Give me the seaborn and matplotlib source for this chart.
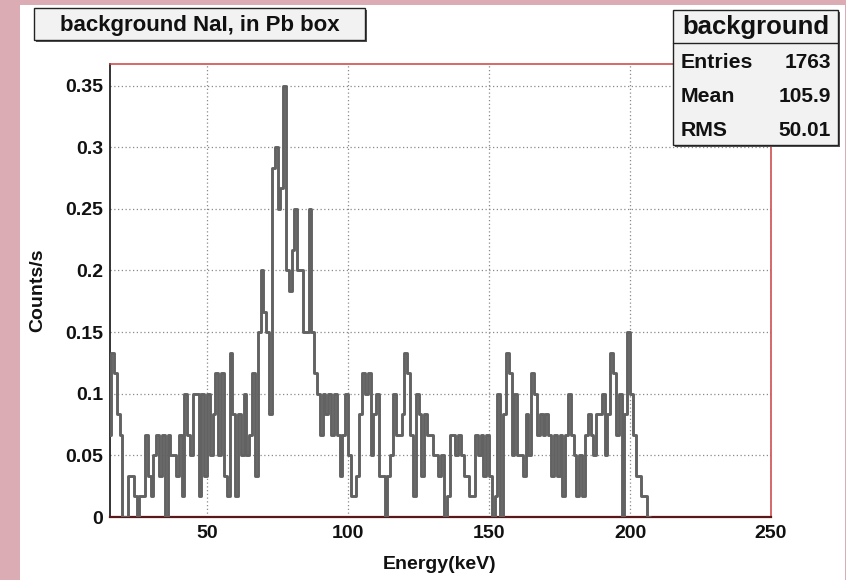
import numpy as np
import pandas as pd
import matplotlib
matplotlib.use("Agg")
import matplotlib.pyplot as plt
from matplotlib.patches import Rectangle
from matplotlib.ticker import MultipleLocator
import seaborn as sns

# Background spectrum: counts in 1 keV bins starting at 15 keV, 60 s live time
bin_start_kev = 15
live_time_s = 60
counts = [
    4, 8, 7, 5, 4, 0, 0, 2, 2, 1,          # 15-24
    0, 1, 1, 4, 2, 1, 3, 4, 2, 4,          # 25-34
    0, 4, 3, 3, 2, 4, 1, 6, 4, 3,          # 35-44
    6, 6, 1, 6, 2, 6, 3, 5, 7, 3,          # 45-54
    7, 2, 1, 8, 5, 1, 5, 3, 6, 3,          # 55-64
    4, 7, 2, 9, 12, 10, 9, 5, 17, 18,      # 65-74
    15, 16, 21, 12, 11, 13, 15, 12, 12, 9, # 75-84
    9, 15, 9, 7, 6, 4, 6, 5, 6, 4,         # 85-94
    6, 4, 2, 4, 6, 3, 1, 1, 2, 5,          # 95-104
    7, 6, 7, 3, 5, 6, 2, 2, 0, 2,          # 105-114
    3, 6, 4, 4, 5, 8, 7, 4, 1, 6,          # 115-124
    5, 2, 5, 4, 4, 3, 3, 2, 3, 0,          # 125-134
    1, 4, 4, 3, 4, 3, 2, 2, 1, 1,          # 135-144
    4, 3, 4, 2, 4, 2, 0, 1, 6, 0,          # 145-154
    5, 8, 7, 3, 6, 3, 3, 2, 5, 3,          # 155-164
    7, 6, 4, 5, 4, 5, 4, 2, 4, 2,          # 165-174
    4, 1, 4, 6, 4, 3, 1, 3, 1, 4,          # 175-184
    5, 4, 3, 5, 5, 6, 3, 5, 8, 7,          # 185-194
    4, 6, 0, 5, 9, 6, 4, 2, 2, 1,          # 195-204
    1, 0,                                  # 205-206
]

x_range = (15.6, 250)
y_max = 0.3675
x_major = [50, 100, 150, 200, 250]
x_tick_labels = ["50", "100", "150", "200", "250"]
y_major = [0, 0.05, 0.1, 0.15, 0.2, 0.25, 0.3, 0.35]
y_tick_labels = ["0", "0.05", "0.1", "0.15", "0.2", "0.25", "0.3", "0.35"]

title_text = "background NaI, in Pb box"
stats_title = "background"
stats_names = ["Entries", "Mean", "RMS"]
stats_values = ["1763", "105.9", "50.01"]

n_bins = len(counts)
spectrum = pd.DataFrame({
    "energy": bin_start_kev + np.arange(n_bins) + 0.5,
    "rate": np.asarray(counts, dtype=float) / live_time_s,
})

sns.set_theme(style="white")
plt.rcParams["font.family"] = ["Liberation Sans", "DejaVu Sans"]
plt.rcParams["font.weight"] = "bold"

W, H = 846, 580
fig = plt.figure(figsize=(W / 100, H / 100), dpi=100)
fig.patch.set_facecolor("#dbacb4")


def fx(px):
    return px / W


def fy(py):
    return 1 - py / H


# white canvas
fig.add_artist(Rectangle((fx(20), 0), fx(845) - fx(20), fy(5), transform=fig.transFigure,
                         facecolor="white", edgecolor="none", zorder=0))

ax = fig.add_axes([fx(110), fy(517), fx(771) - fx(110), fy(64) - fy(517)])
ax.set_facecolor("white")

sns.histplot(data=spectrum, x="energy", weights="rate", binwidth=1,
             binrange=(bin_start_kev, bin_start_kev + n_bins),
             element="step", fill=False, color="#626262", linewidth=2.1, ax=ax, zorder=3)

ax.set_xlim(*x_range)
ax.set_ylim(0, y_max)
ax.set_xticks(x_major, x_tick_labels)
ax.set_yticks(y_major, y_tick_labels)
ax.xaxis.set_minor_locator(MultipleLocator(10))
ax.yaxis.set_minor_locator(MultipleLocator(0.01))

ax.tick_params(axis="both", which="both", direction="in", top=False, right=False,
               colors="#111111", labelsize=14, width=1.1)
ax.tick_params(axis="x", which="major", length=10, pad=6)
ax.tick_params(axis="x", which="minor", length=5)
ax.tick_params(axis="y", which="major", length=13, pad=5)
ax.tick_params(axis="y", which="minor", length=6.5)
for lab in ax.get_xticklabels() + ax.get_yticklabels():
    lab.set_fontweight("bold")

ax.grid(True, which="major", color="#8a8a8a", linestyle=(0, (1, 2)), linewidth=0.9)
ax.set_axisbelow(True)

ax.spines["left"].set_color("#111111")
ax.spines["left"].set_linewidth(1.2)
ax.spines["bottom"].set_color("#5a1818")
ax.spines["bottom"].set_linewidth(1.6)
for side in ("top", "right"):
    ax.spines[side].set_color("#cc4040")
    ax.spines[side].set_linewidth(1.1)

ax.set_xlabel("Energy(keV)", fontsize=14, fontweight="bold", color="#111111")
ax.set_ylabel("Counts/s", fontsize=14, fontweight="bold", color="#111111")
ax.xaxis.set_label_coords((440 - 110) / 661, (517 - 556) / 453)
ax.yaxis.set_label_coords((46 - 110) / 661, 0.5)


def pave(x0, y0, x1, y1):
    fig.add_artist(Rectangle((fx(x0 + 2), fy(y1 + 2)), fx(x1) - fx(x0), fy(y0) - fy(y1),
                             transform=fig.transFigure, facecolor="#555555",
                             edgecolor="none", zorder=5))
    fig.add_artist(Rectangle((fx(x0), fy(y1)), fx(x1) - fx(x0), fy(y0) - fy(y1),
                             transform=fig.transFigure, facecolor="#f2f2f2",
                             edgecolor="#222222", linewidth=1.0, zorder=6))


# title box
pave(34, 8, 365, 40)
fig.text(fx(200), fy(25), title_text, ha="center", va="center", fontsize=16,
         fontweight="bold", color="#111111", zorder=7)

# statistics box
pave(673, 10, 838, 145)
fig.add_artist(plt.Line2D([fx(673), fx(838)], [fy(43), fy(43)], transform=fig.transFigure,
                          color="#222222", linewidth=1.0, zorder=7))
fig.text(fx(756), fy(27), stats_title, ha="center", va="center", fontsize=18.5,
         fontweight="bold", color="#111111", zorder=7)
for i, (name, val) in enumerate(zip(stats_names, stats_values)):
    yy = 62 + i * 34
    fig.text(fx(681), fy(yy), name, ha="left", va="center", fontsize=15.3,
             fontweight="bold", color="#111111", zorder=7)
    fig.text(fx(831), fy(yy), val, ha="right", va="center", fontsize=15,
             fontweight="bold", color="#111111", zorder=7)

fig.savefig("out.png", dpi=100, facecolor=fig.get_facecolor())
